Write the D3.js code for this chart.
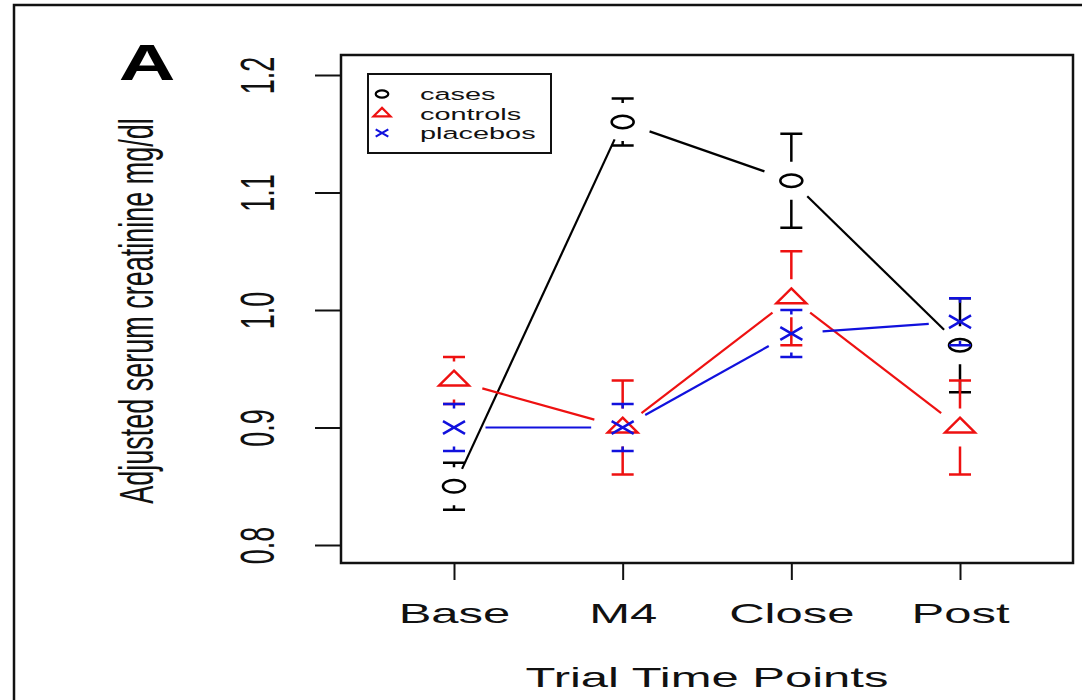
<!DOCTYPE html>
<html>
<head>
<meta charset="utf-8">
<script src="https://cdn.jsdelivr.net/npm/d3@7"></script>
<style>
  body { margin: 0; background: #fff; }
  text { font-family: "Liberation Sans", Arial, sans-serif; }
</style>
</head>
<body>
<div id="chart"></div>
<script>
// Data
var timePoints = ["Base", "M4", "Close", "Post"];
var seriesNames = ["cases", "controls", "placebos"];
var casesMean = [0.85, 1.16, 1.11, 0.97];
var casesErr = [0.02, 0.02, 0.04, 0.04];
var controlsMean = [0.94, 0.90, 1.01, 0.90];
var controlsErr = [0.02, 0.04, 0.04, 0.04];
var placebosMean = [0.90, 0.90, 0.98, 0.99];
var placebosErr = [0.02, 0.02, 0.02, 0.02];
var yTicks = [0.8, 0.9, 1.0, 1.1, 1.2];

var series = [
  {name: seriesNames[0], mean: casesMean, err: casesErr, color: "#000000", shape: "circle"},
  {name: seriesNames[1], mean: controlsMean, err: controlsErr, color: "#ee1111", shape: "triangle"},
  {name: seriesNames[2], mean: placebosMean, err: placebosErr, color: "#1111dd", shape: "cross"}
];

var W = 1082, H = 700;
var S = 1.75; // horizontal stretch of the original picture
var box = {left: 341, top: 55, right: 1073, bottom: 563};

var svg = d3.select("#chart")
  .append("svg")
  .attr("width", W)
  .attr("height", H);

// outer frame (cut off at right and bottom)
svg.append("path")
  .attr("d", "M14,700 L14,5 L1082,5")
  .attr("fill", "none")
  .attr("stroke", "#111")
  .attr("stroke-width", 2.5);

var x = d3.scalePoint()
  .domain(timePoints)
  .range([454, 960]);

var y = d3.scaleLinear()
  .domain([0.8, 1.2])
  .range([545, 75]);

// plot box
svg.append("rect")
  .attr("x", box.left)
  .attr("y", box.top)
  .attr("width", box.right - box.left)
  .attr("height", box.bottom - box.top)
  .attr("fill", "none")
  .attr("stroke", "#111")
  .attr("stroke-width", 2.5);

// y axis
var yAxis = svg.append("g")
  .attr("transform", "translate(" + box.left + ",0)")
  .call(d3.axisLeft(y).tickValues(yTicks).tickSize(26).tickFormat(d3.format(".1f")));
yAxis.select(".domain").remove();
yAxis.selectAll(".tick line").attr("stroke", "#111").attr("stroke-width", 2);
yAxis.selectAll(".tick text")
  .attr("x", null).attr("dy", null)
  .attr("transform", "translate(-67,0) scale(" + S + ",1) rotate(-90)")
  .attr("text-anchor", "middle")
  .attr("fill", "#111")
  .style("font-size", "27px");

// x axis
var xAxis = svg.append("g")
  .attr("transform", "translate(0," + box.bottom + ")")
  .call(d3.axisBottom(x).tickSize(17));
xAxis.select(".domain").remove();
xAxis.selectAll(".tick line").attr("stroke", "#111").attr("stroke-width", 2);
xAxis.selectAll(".tick text")
  .attr("y", null).attr("dy", null)
  .attr("transform", "translate(0,60) scale(" + S + ",1)")
  .attr("text-anchor", "middle")
  .attr("fill", "#111")
  .style("font-size", "28px");

// axis titles
svg.append("text")
  .attr("transform", "translate(707,687) scale(" + S + ",1)")
  .attr("text-anchor", "middle")
  .attr("fill", "#111")
  .style("font-size", "28px")
  .text("Trial Time Points");

svg.append("text")
  .attr("transform", "translate(153,311) scale(" + S + ",1) rotate(-90)")
  .attr("text-anchor", "middle")
  .attr("fill", "#111")
  .style("font-size", "27px")
  .text("Adjusted serum creatinine mg/dl");

svg.append("text")
  .attr("transform", "translate(147,80) scale(1.6,1)")
  .attr("text-anchor", "middle")
  .attr("fill", "#000")
  .style("font-size", "49px")
  .style("font-weight", "bold")
  .text("A");

// marker path builder, r in unstretched units
function markerPath(shape, cx, cy, r) {
  if (shape === "circle") {
    var p = d3.path();
    p.ellipse ? null : null;
    return "M" + (cx - r * S) + "," + cy +
      " A" + (r * S) + "," + r + " 0 1,0 " + (cx + r * S) + "," + cy +
      " A" + (r * S) + "," + r + " 0 1,0 " + (cx - r * S) + "," + cy + " Z";
  }
  if (shape === "triangle") {
    var top = 1.555 * r, half = 1.347 * r, bot = 0.777 * r;
    return "M" + cx + "," + (cy - top) +
      " L" + (cx + half * S) + "," + (cy + bot) +
      " L" + (cx - half * S) + "," + (cy + bot) + " Z";
  }
  return "M" + (cx - r * S) + "," + (cy - r) + " L" + (cx + r * S) + "," + (cy + r) +
    " M" + (cx - r * S) + "," + (cy + r) + " L" + (cx + r * S) + "," + (cy - r);
}

var lineGap = 18, barGap = 19, capHalf = 11, markR = 6.3;

series.forEach(function(s) {
  var g = svg.append("g");
  var pts = s.mean.map(function(v, i) { return [x(timePoints[i]), y(v)]; });

  // connecting lines with gaps at the points (type = "b")
  for (var i = 0; i < pts.length - 1; i++) {
    var dx = (pts[i + 1][0] - pts[i][0]) / S, dy = pts[i + 1][1] - pts[i][1];
    var len = Math.sqrt(dx * dx + dy * dy);
    if (len <= 2 * lineGap) continue;
    var ux = dx / len, uy = dy / len;
    g.append("line")
      .attr("x1", pts[i][0] + ux * lineGap * S)
      .attr("y1", pts[i][1] + uy * lineGap)
      .attr("x2", pts[i + 1][0] - ux * lineGap * S)
      .attr("y2", pts[i + 1][1] - uy * lineGap)
      .attr("stroke", s.color)
      .attr("stroke-width", 2.2);
  }

  // error bars with a gap around the point
  s.mean.forEach(function(v, i) {
    var cx = x(timePoints[i]), cy = y(v);
    [v + s.err[i], v - s.err[i]].forEach(function(e) {
      var ey = y(e), dir = ey < cy ? -1 : 1;
      var path = "M" + (cx - capHalf) + "," + ey + " L" + (cx + capHalf) + "," + ey;
      if (Math.abs(ey - cy) > barGap) path += " M" + cx + "," + ey + " L" + cx + "," + (cy + dir * barGap);
      g.append("path")
        .attr("d", path)
        .attr("fill", "none")
        .attr("stroke", s.color)
        .attr("stroke-width", 2.5);
    });
  });

  g.selectAll(".mark")
    .data(pts)
    .enter()
    .append("path")
    .attr("d", function(d) { return markerPath(s.shape, d[0], d[1], markR); })
    .attr("fill", "none")
    .attr("stroke", s.color)
    .attr("stroke-width", 2.5);
});

// legend
var legend = svg.append("g");
legend.append("rect")
  .attr("x", 368)
  .attr("y", 74)
  .attr("width", 183)
  .attr("height", 79)
  .attr("fill", "#fff")
  .attr("stroke", "#111")
  .attr("stroke-width", 2);

var rows = legend.selectAll(".legend")
  .data(series)
  .enter()
  .append("g")
  .attr("class", "legend")
  .attr("transform", function(d, i) { return "translate(0," + (94 + i * 19.5) + ")"; });

rows.append("path")
  .attr("d", function(d) { return markerPath(d.shape, 382, 0, 3.6); })
  .attr("fill", "none")
  .attr("stroke", function(d) { return d.color; })
  .attr("stroke-width", 2.2);

rows.append("text")
  .attr("transform", "translate(420,6) scale(1.7,1)")
  .attr("fill", "#111")
  .style("font-size", "17px")
  .text(function(d) { return d.name; });
</script>
</body>
</html>
